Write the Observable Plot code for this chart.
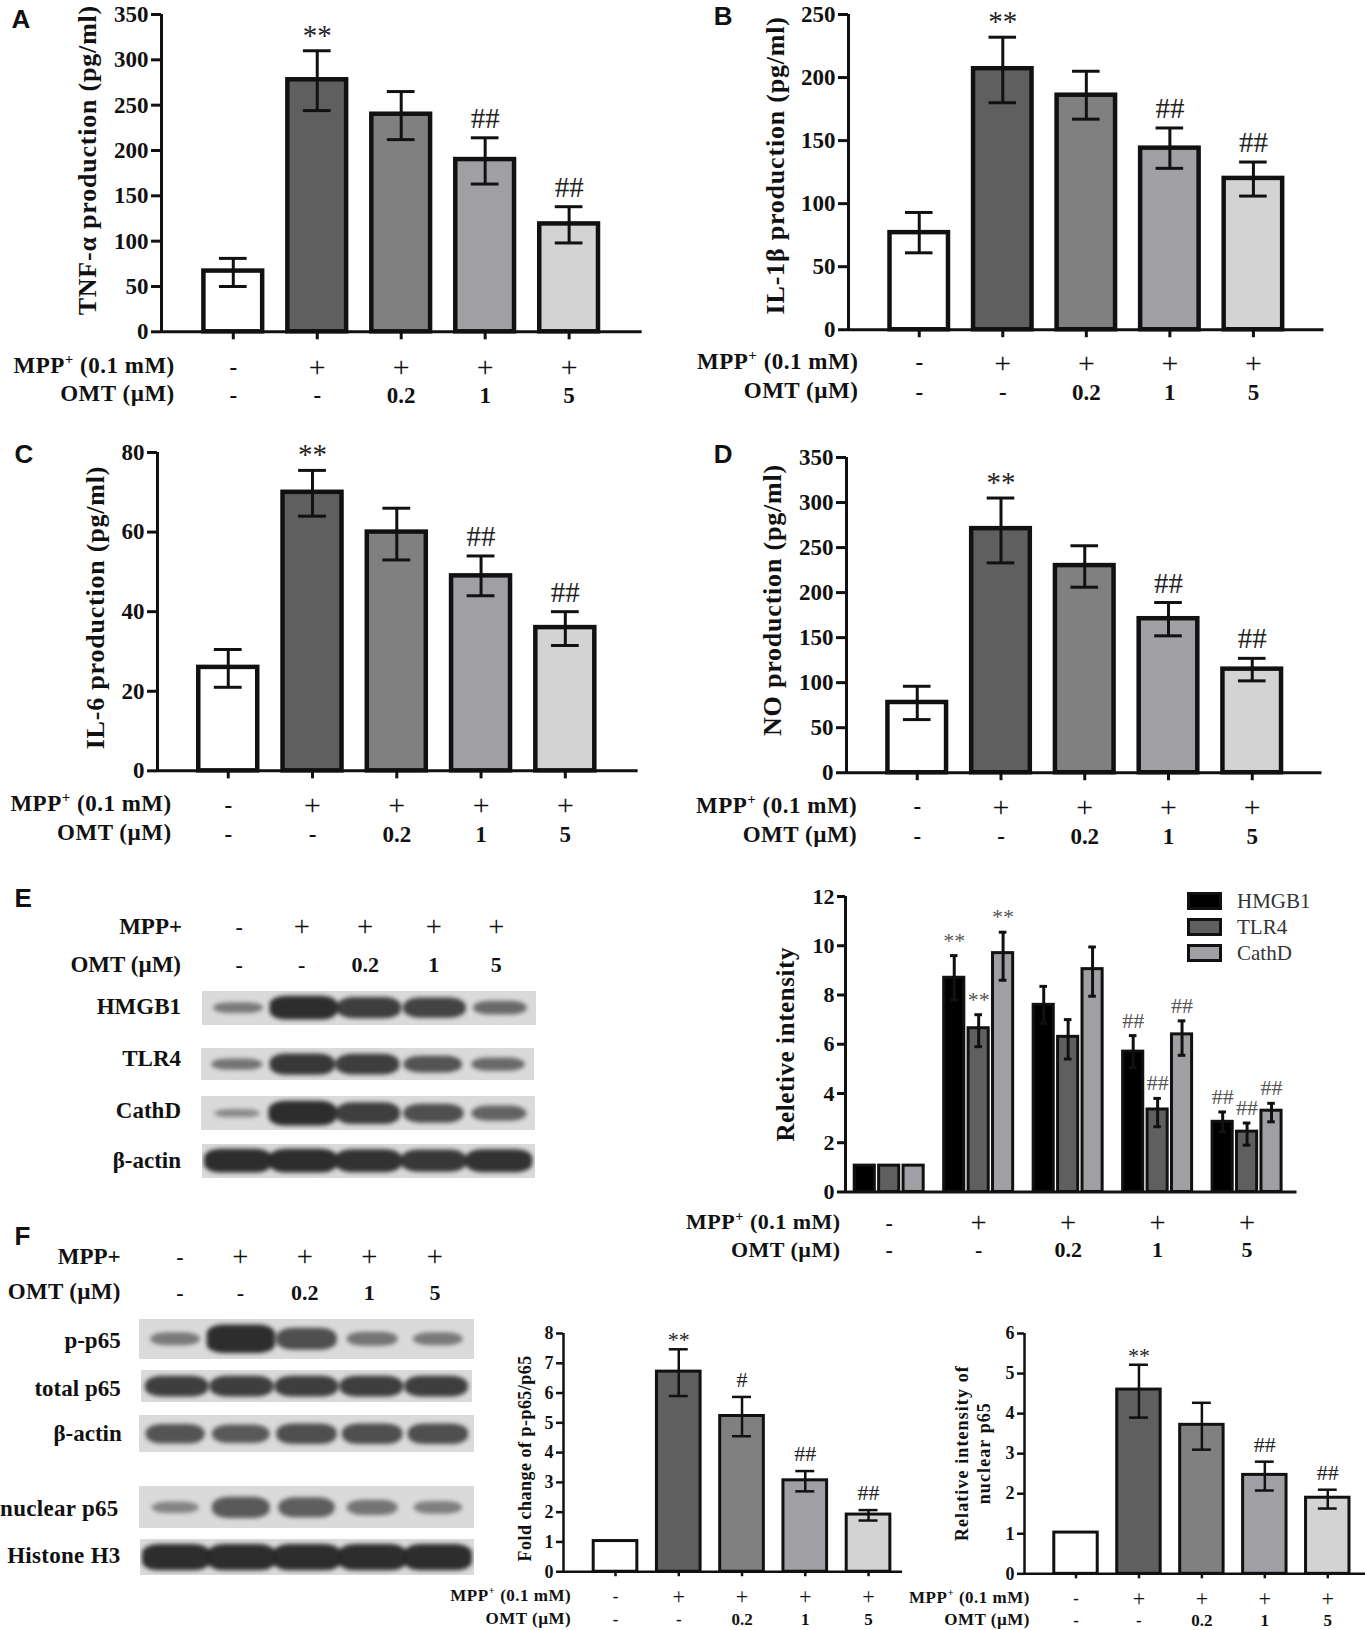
<!DOCTYPE html>
<html>
<head>
<meta charset="utf-8">
<script src="https://cdn.jsdelivr.net/npm/d3@7"></script>
<script src="https://cdn.jsdelivr.net/npm/@observablehq/plot@0.6"></script>
<style>
  body { margin: 0; background: #fff; }
  #fig { position: relative; width: 1365px; height: 1630px; overflow: hidden; font-family: "Liberation Serif", serif; color: #111; }
  #fig svg { position: absolute; }
  #fig sup { font-size: 65%; line-height: 0; }
  .t { position: absolute; white-space: nowrap; }
</style>
</head>
<body>
<div id="fig"></div>
<script>
// values
const mppRow = ["-", "+", "+", "+", "+"];
const omtRow = ["-", "-", "0.2", "1", "5"];
const sigRow = ["", "**", "", "##", "##"];
const sigRowF = ["", "**", "#", "##", "##"];
const barFills = ["#ffffff", "#5f5f5f", "#808080", "#a0a0a4", "#d3d3d3"];

const tnfMean = [67, 278, 240, 190, 119];
const tnfHi = [81, 310, 265, 214, 138];
const tnfLo = [50, 244, 212, 163, 98];

const il1Mean = [77, 207, 186, 144, 120];
const il1Hi = [93, 232, 205, 160, 133];
const il1Lo = [61, 180, 167, 128, 106];

const il6Mean = [26, 70, 60, 49, 36];
const il6Hi = [30.5, 75.5, 66, 54, 40];
const il6Lo = [21, 64, 53, 44, 31.5];

const noMean = [78, 271, 230, 171, 115];
const noHi = [96, 305, 252, 189, 127];
const noLo = [59, 233, 206, 152, 102];

const hmgb1Mean = [1.07, 8.7, 7.6, 5.7, 2.85];
const hmgb1Hi = [null, 9.6, 8.35, 6.35, 3.25];
const hmgb1Lo = [null, 7.8, 6.85, 5.05, 2.45];
const hmgb1Sig = ["", "**", "", "##", "##"];
const tlr4Mean = [1.07, 6.65, 6.3, 3.35, 2.45];
const tlr4Hi = [null, 7.2, 7.0, 3.8, 2.8];
const tlr4Lo = [null, 5.9, 5.4, 2.65, 1.9];
const tlr4Sig = ["", "**", "", "##", "##"];
const cathMean = [1.07, 9.7, 9.05, 6.4, 3.3];
const cathHi = [null, 10.55, 9.95, 6.95, 3.6];
const cathLo = [null, 8.6, 7.95, 5.55, 2.85];
const cathSig = ["", "**", "", "##", "##"];

const foldMean = [1.03, 6.72, 5.23, 3.07, 1.92];
const foldHi = [null, 7.47, 5.87, 3.38, 2.07];
const foldLo = [null, 5.9, 4.55, 2.7, 1.72];

const nucMean = [1.03, 4.6, 3.72, 2.47, 1.9];
const nucHi = [null, 5.22, 4.27, 2.8, 2.1];
const nucLo = [null, 3.9, 3.1, 2.08, 1.63];

// band strength per lane, 0 to 1
const blotHmgb1 = [0.3, 1, 0.85, 0.8, 0.45];
const blotTlr4 = [0.35, 0.9, 0.85, 0.65, 0.45];
const blotCathD = [0.15, 1, 0.85, 0.7, 0.5];
const blotActinE = [1, 1, 0.95, 0.9, 0.95];
const blotPp65 = [0.3, 1, 0.7, 0.35, 0.3];
const blotTotal = [0.85, 0.85, 0.85, 0.85, 0.85];
const blotActinF = [0.65, 0.6, 0.7, 0.7, 0.7];
const blotNuclear = [0.2, 0.6, 0.55, 0.35, 0.25];
const blotH3 = [1, 1, 1, 1, 1];

// layout numbers below were measured on a 1312px wide view
const k = 1365 / 1312;
const fig = document.getElementById("fig");

function put(html, x, y, o = {}) {
  const el = document.createElement("div");
  el.className = "t";
  el.innerHTML = html;
  el.style.left = x * k + "px";
  el.style.top = y * k + "px";
  el.style.fontSize = (o.size || 23) + "px";
  el.style.fontWeight = o.weight || "bold";
  if (o.font) el.style.fontFamily = o.font;
  if (o.spacing) el.style.letterSpacing = o.spacing + "px";
  if (o.color) el.style.color = o.color;
  el.style.transform = `translate(${o.anchor === "end" ? "-100%" : o.anchor === "start" ? "0" : "-50%"},-50%)`;
  fig.append(el);
}

// "+" is thin and wide in the figure, the other row entries are bold
function putCell(t, x, y, size) {
  put(t, x, y, t === "+" ? {size: size * 1.3, weight: "normal"} : {size});
}

function barPanel(o) {
  const ml = 120, mr = 10, mt = 10, mb = 100;
  const W = (o.right - o.left) * k;
  const H = (o.bottom - o.top) * k;
  const bw = o.barWidth / 2;
  const cap = o.capWidth / 2;
  const rows = o.series.flatMap(s => s.mean.map((v, i) => ({
    x: i + (s.offset || 0), v, fill: s.fill || barFills[i],
    hi: s.hi[i], lo: s.lo[i], sig: s.sig[i]
  })));
  const err = rows.filter(d => d.hi != null);
  const lanes = d3.range(5);
  const sigText = (filter, dy) => Plot.text(err.filter(filter), {
    x: "x", y: "hi", text: "sig", lineAnchor: "bottom", dy,
    fontSize: o.sigSize, fontWeight: "normal", fill: o.sigColor || "#222"
  });
  const marks = [
    Plot.rect(rows, {x1: d => d.x - bw, x2: d => d.x + bw, y1: 0, y2: "v", fill: "fill", stroke: "#111", strokeWidth: o.bar}),
    Plot.ruleX(err, {x: "x", y1: "lo", y2: "hi", stroke: "#111", strokeWidth: o.err}),
    Plot.ruleY(err, {y: "hi", x1: d => d.x - cap, x2: d => d.x + cap, stroke: "#111", strokeWidth: o.err}),
    Plot.ruleY(err, {y: "lo", x1: d => d.x - cap, x2: d => d.x + cap, stroke: "#111", strokeWidth: o.err}),
    sigText(d => d.sig === "**", o.starDy),
    sigText(d => d.sig && d.sig !== "**", o.hashDy),
    Plot.ruleX([(o.left - o.c0) / o.step], {stroke: "#111", strokeWidth: o.axis}),
    Plot.ruleY([0], {stroke: "#111", strokeWidth: o.axis}),
    Plot.axisY({ticks: o.ticks, tickFormat: d => String(d), tickSize: o.tick, tickPadding: 3, label: null, fontSize: o.tickFont, strokeWidth: o.axis, fontWeight: "bold"}),
    Plot.text(lanes.filter(i => mppRow[i] !== "+"), {x: d => d, frameAnchor: "bottom", dy: (o.row1 - o.bottom) * k, text: i => mppRow[i], lineAnchor: "middle", fontSize: o.rowFont, fontWeight: "bold"}),
    Plot.text(lanes.filter(i => mppRow[i] === "+"), {x: d => d, frameAnchor: "bottom", dy: (o.row1 - o.bottom) * k, text: i => mppRow[i], lineAnchor: "middle", fontSize: o.rowFont * 1.3, fontWeight: "normal"}),
    Plot.text(lanes, {x: d => d, frameAnchor: "bottom", dy: (o.row2 - o.bottom) * k, text: i => omtRow[i], lineAnchor: "middle", fontSize: o.rowFont, fontWeight: "bold"})
  ];
  if (o.xTicks !== false) {
    marks.push(Plot.axisX({ticks: lanes, tickFormat: () => "", tickSize: o.tick - 2, label: null, strokeWidth: o.axis}));
  }
  const midY = (o.top + o.bottom) / 2;
  for (const l of o.ylabel) {
    marks.push(Plot.text([l.text], {
      frameAnchor: "left", dx: (l.x - o.left) * k, dy: (l.y - midY) * k,
      rotate: -90, textAnchor: "middle", lineAnchor: "middle",
      fontSize: o.labelFont, fontWeight: "bold"
    }));
  }
  const plot = Plot.plot({
    width: W + ml + mr,
    height: H + mt + mb,
    marginLeft: ml, marginRight: mr, marginTop: mt, marginBottom: mb,
    style: {fontFamily: "Liberation Serif", background: "transparent", overflow: "visible", color: "#111"},
    x: {type: "linear", domain: [(o.left - o.c0) / o.step, (o.right - o.c0) / o.step], axis: null},
    y: {domain: [0, o.ticks[o.ticks.length - 1]], axis: null},
    marks
  });
  const labelTexts = o.ylabel.map(l => l.text);
  d3.select(plot).selectAll("text")
    .filter(function() { return labelTexts.includes(this.textContent); })
    .style("letter-spacing", o.labelSpacing + "px");
  plot.style.left = o.left * k - ml + "px";
  plot.style.top = o.top * k - mt + "px";
  fig.append(plot);

  put("MPP<sup>+</sup> (0.1 mM)", o.rowEnd, o.row1, {anchor: "end", size: o.rowFont, spacing: o.rowSpacing});
  put("OMT (µM)", o.rowEnd, o.row2, {anchor: "end", size: o.rowFont, spacing: o.rowSpacing});
}

const big = {barWidth: 0.7, capWidth: 0.33, bar: 4.5, err: 3, axis: 3, tick: 10, tickFont: 23, rowFont: 23, rowSpacing: 0.5, labelFont: 26, labelSpacing: 0.8, sigSize: 29, starDy: -6, hashDy: -10};
const small = {barWidth: 0.69, capWidth: 0.3, bar: 3, err: 2.5, axis: 2.5, tick: 7, tickFont: 18, rowFont: 17, rowSpacing: 0.5, labelFont: 18, labelSpacing: 0.5, sigSize: 22, starDy: -2, hashDy: -10};

barPanel({...big, left: 155, right: 617, top: 13, bottom: 318, c0: 224, step: 80.7, ticks: d3.ticks(0, 350, 7),
  row1: 352, row2: 379, rowEnd: 168,
  ylabel: [{text: "TNF-α production (pg/ml)", x: 84, y: 153}],
  series: [{mean: tnfMean, hi: tnfHi, lo: tnfLo, sig: sigRow}]});

barPanel({...big, left: 815, right: 1272, top: 13, bottom: 316, c0: 883, step: 80.3, ticks: d3.ticks(0, 250, 5),
  row1: 348, row2: 376, rowEnd: 825,
  ylabel: [{text: "IL-1β production (pg/ml)", x: 745, y: 158}],
  series: [{mean: il1Mean, hi: il1Hi, lo: il1Lo, sig: sigRow}]});

barPanel({...big, left: 151, right: 613, top: 434, bottom: 740, c0: 219, step: 81, ticks: [0, 20, 40, 60, 80],
  row1: 773, row2: 801, rowEnd: 165,
  ylabel: [{text: "IL-6 production (pg/ml)", x: 92, y: 583}],
  series: [{mean: il6Mean, hi: il6Hi, lo: il6Lo, sig: sigRow}]});

barPanel({...big, left: 813, right: 1270, top: 439, bottom: 742, c0: 881, step: 80.5, ticks: d3.ticks(0, 350, 7),
  row1: 775, row2: 803, rowEnd: 824,
  ylabel: [{text: "NO production (pg/ml)", x: 742, y: 576}],
  series: [{mean: noMean, hi: noHi, lo: noLo, sig: sigRow}]});

barPanel({...big, left: 812, right: 1246, top: 861, bottom: 1145, c0: 854, step: 86, barWidth: 0.225, capWidth: 0.085,
  bar: 3, err: 3, ticks: [0, 2, 4, 6, 8, 10, 12], tickFont: 22, tick: 8, xTicks: false,
  sigSize: 22, starDy: -8, hashDy: -8, sigColor: "#555", row1: 1175, row2: 1201, rowEnd: 808, rowFont: 22,
  ylabel: [{text: "Reletive intensity", x: 755, y: 1003}], labelFont: 25, labelSpacing: 0.6,
  series: [
    {mean: hmgb1Mean, hi: hmgb1Hi, lo: hmgb1Lo, sig: hmgb1Sig, fill: "#000000", offset: -0.273},
    {mean: tlr4Mean, hi: tlr4Hi, lo: tlr4Lo, sig: tlr4Sig, fill: "#5f5f5f", offset: 0},
    {mean: cathMean, hi: cathHi, lo: cathLo, sig: cathSig, fill: "#a0a0a4", offset: 0.273}
  ]});

barPanel({...small, left: 541, right: 867, top: 1281, bottom: 1510, c0: 591, step: 60.8, ticks: d3.range(0, 9),
  row1: 1534, row2: 1556, rowEnd: 549,
  ylabel: [{text: "Fold change of p-p65/p65", x: 504, y: 1401}],
  series: [{mean: foldMean, hi: foldHi, lo: foldLo, sig: sigRowF}]});

barPanel({...small, left: 984, right: 1312, top: 1281, bottom: 1512, c0: 1033.5, step: 60.5, ticks: d3.range(0, 7),
  row1: 1536, row2: 1557, rowEnd: 990, labelSpacing: 1.1,
  ylabel: [{text: "Relative intensity of", x: 924, y: 1396}, {text: "nuclear p65", x: 945, y: 1396}],
  series: [{mean: nucMean, hi: nucHi, lo: nucLo, sig: sigRow}]});

// western blots: one small plot per gel strip
function blot(strength, x0, x1, y0, y1) {
  const plot = Plot.plot({
    width: (x1 - x0) * k, height: (y1 - y0) * k,
    margin: 0,
    style: {background: "#dadada"},
    x: {type: "linear", domain: [-0.55, 4.55], axis: null},
    y: {type: "linear", domain: [-1, 1], axis: null},
    marks: [
      Plot.rect(strength, {
        x1: (d, i) => i - (0.32 + 0.2 * d),
        x2: (d, i) => i + (0.32 + 0.2 * d),
        y1: d => -(0.16 + 0.56 * d),
        y2: d => 0.16 + 0.56 * d,
        fill: "#242424",
        fillOpacity: d => 0.35 + 0.6 * d,
        rx: 16, ry: 9,
        imageFilter: "blur(2px)"
      })
    ]
  });
  plot.style.left = x0 * k + "px";
  plot.style.top = y0 * k + "px";
  fig.append(plot);
}

blot(blotHmgb1, 194, 515, 953, 985);
blot(blotTlr4, 193, 513, 1007, 1038);
blot(blotCathD, 193, 514, 1053, 1086);
blot(blotActinE, 194, 514, 1100, 1132);

blot(blotPp65, 134, 456, 1268, 1306);
blot(blotTotal, 136, 454, 1317, 1348);
blot(blotActinF, 134, 456, 1360, 1396);
blot(blotNuclear, 134, 456, 1428, 1469);
blot(blotH3, 135, 456, 1479, 1514);

// blot headers and row names
[230, 290, 351, 417, 477].forEach((x, i) => {
  putCell(mppRow[i], x, 891, 22);
  putCell(omtRow[i], x, 928, 22);
});
put("MPP+", 175, 891, {anchor: "end"});
put("OMT (µM)", 174, 928, {anchor: "end"});
put("HMGB1", 174, 968, {anchor: "end"});
put("TLR4", 174, 1018, {anchor: "end"});
put("CathD", 174, 1068, {anchor: "end"});
put("β-actin", 174, 1116, {anchor: "end"});

[173, 231, 293, 355, 418].forEach((x, i) => {
  putCell(mppRow[i], x, 1208, 22);
  putCell(omtRow[i], x, 1243, 22);
});
put("MPP+", 116, 1208, {anchor: "end"});
put("OMT (µM)", 116, 1242, {anchor: "end", spacing: 0.3});
put("p-p65", 116, 1289, {anchor: "end"});
put("total p65", 116, 1335, {anchor: "end"});
put("β-actin", 117, 1378, {anchor: "end"});
put("nuclear p65", 114, 1450, {anchor: "end", spacing: 0.3});
put("Histone H3", 116, 1496, {anchor: "end", spacing: 0.3});

// legend of panel E
[["HMGB1", "#000000", 866], ["TLR4", "#5f5f5f", 891], ["CathD", "#a0a0a4", 916]].forEach(([name, fill, y]) => {
  const s = document.createElement("div");
  s.style.cssText = `position:absolute;box-sizing:border-box;left:${1141 * k}px;top:${(y - 8.5) * k}px;width:${34 * k}px;height:${17 * k}px;background:${fill};border:3px solid #111`;
  fig.append(s);
  put(name, 1189, y, {anchor: "start", size: 21, weight: "normal", color: "#333"});
});

// panel letters
const letters = [["A", 11, 18], ["B", 686, 15], ["C", 14, 436], ["D", 686, 436], ["E", 14, 863], ["F", 14, 1188]];
for (const [t, x, y] of letters) put(t, x, y, {anchor: "start", size: 26, font: "Liberation Sans"});
</script>
</body>
</html>
